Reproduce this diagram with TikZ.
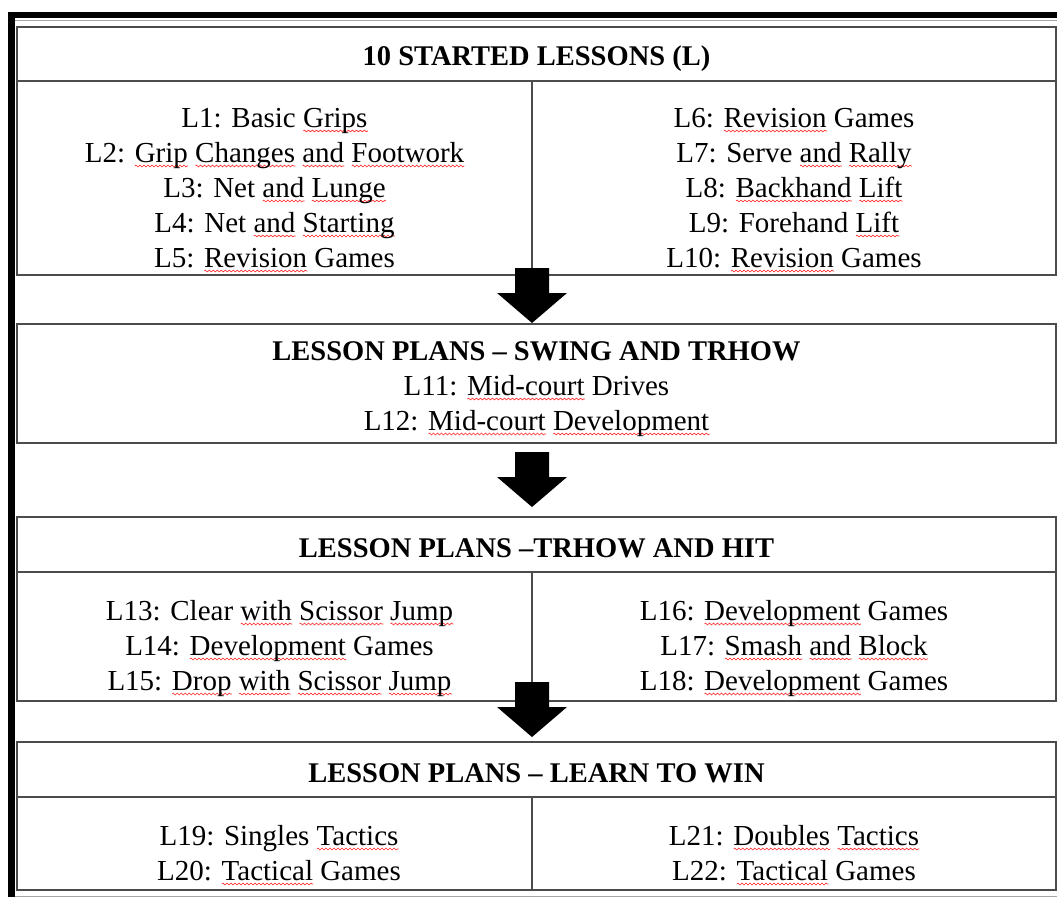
\documentclass[tikz,border=0pt]{standalone}
\usepackage{fontspec}
\setmainfont{Liberation Serif}
\usepackage{tikz}
\usetikzlibrary{decorations.pathmorphing}

% red squiggle under a word, as the spell checker draws it
\newlength{\sqwd}
\newcommand{\sq}[1]{\settowidth{\sqwd}{#1}\rlap{\tikz[baseline=0pt, x=1pt, y=1pt]
  \draw[red!85, line width=0.6pt, decorate, decoration={zigzag, segment length=4pt, amplitude=0.9pt}] (0,-4) -- (\sqwd,-4);}#1}

\tikzset{
  panel/.style={draw=black!70, line width=1.3pt, inner sep=0pt, outer sep=0pt, minimum width=1039pt},
  rule/.style={draw=black!70, line width=1.3pt},
  head/.style={anchor=base, inner sep=0pt, font=\fontsize{28.5}{34}\selectfont\bfseries},
  item/.style={anchor=base, inner sep=0pt, font=\fontsize{29}{35}\selectfont},
  blockdown/.pic={\fill (-17,0) -- (17,0) -- (17,25) -- (35,25) -- (0,55) -- (-35,25) -- (-17,25) -- cycle;}
}

\begin{document}
\begin{tikzpicture}[x=1pt, y=-1pt]
  \useasboundingbox (0,0) rectangle (1057,897);
  % page frame
  \fill (8,12) rectangle (1057,18);
  \fill (8,12) rectangle (15,897);
  \draw[black!35, line width=0.8pt] (15,20.5) -- (1057,20.5);
  \draw[black!35, line width=0.8pt] (15,896) -- (1057,896);

  % boxes
  \node[panel, minimum height=248pt] (b1) at (536.5,151) {};
  \node[panel, minimum height=119pt] (b2) at (536.5,383.5) {};
  \node[panel, minimum height=184pt] (b3) at (536.5,609) {};
  \node[panel, minimum height=148pt] (b4) at (536.5,816) {};

  \draw[rule] (b1.west |- 0,81) -- (b1.east |- 0,81);
  \draw[rule] (532,81) -- (b1.south -| 532,0);
  \draw[rule] (b3.west |- 0,572) -- (b3.east |- 0,572);
  \draw[rule] (532,572) -- (b3.south -| 532,0);
  \draw[rule] (b4.west |- 0,797) -- (b4.east |- 0,797);
  \draw[rule] (532,797) -- (b4.south -| 532,0);

  % headings
  \node[head] (h1) at (536.5,65) {10 STARTED LESSONS (L)};
  \node[head] (h2) at (536.5,360) {LESSON PLANS -- SWING AND TRHOW};
  \node[head] (h3) at (536.5,557) {LESSON PLANS --TRHOW AND HIT};
  \node[head] (h4) at (536.5,782) {LESSON PLANS -- LEARN TO WIN};

  % lessons
  \foreach \txt [count=\i] in {%
      {L1: Basic \sq{Grips}},
      {L2: \sq{Grip} \sq{Changes} \sq{and} \sq{Footwork}},
      {L3: Net \sq{and} \sq{Lunge}},
      {L4: Net \sq{and} \sq{Starting}},
      {L5: \sq{Revision} Games}}
    \node[item] (l\i) at (274.5,{127+35*(\i-1)}) {\txt};
  \foreach \txt [count=\i from 6] in {%
      {L6: \sq{Revision} Games},
      {L7: Serve \sq{and} \sq{Rally}},
      {L8: \sq{Backhand} \sq{Lift}},
      {L9: Forehand \sq{Lift}},
      {L10: \sq{Revision} Games}}
    \node[item] (l\i) at (794,{127+35*(\i-6)}) {\txt};
  \node[item] (l11) at (536.5,395) {L11: \sq{Mid-court} Drives};
  \node[item] (l12) at (536.5,430) {L12: \sq{Mid-court} \sq{Development}};
  \foreach \txt [count=\i from 13] in {%
      {L13: Clear \sq{with} \sq{Scissor} \sq{Jump}},
      {L14: \sq{Development} Games},
      {L15: \sq{Drop} \sq{with} \sq{Scissor} \sq{Jump}}}
    \node[item] (l\i) at (279.5,{620+35*(\i-13)}) {\txt};
  \foreach \txt [count=\i from 16] in {%
      {L16: \sq{Development} Games},
      {L17: \sq{Smash} \sq{and} \sq{Block}},
      {L18: \sq{Development} Games}}
    \node[item] (l\i) at (794,{620+35*(\i-16)}) {\txt};
  \node[item] (l19) at (279,845) {L19: Singles \sq{Tactics}};
  \node[item] (l20) at (279,880) {L20: \sq{Tactical} Games};
  \node[item] (l21) at (794,845) {L21: \sq{Doubles} \sq{Tactics}};
  \node[item] (l22) at (794,880) {L22: \sq{Tactical} Games};

  % arrows between the stages
  \pic at (532,268) {blockdown};
  \pic at (532,452) {blockdown};
  \pic at (532,682) {blockdown};
\end{tikzpicture}
\end{document}
